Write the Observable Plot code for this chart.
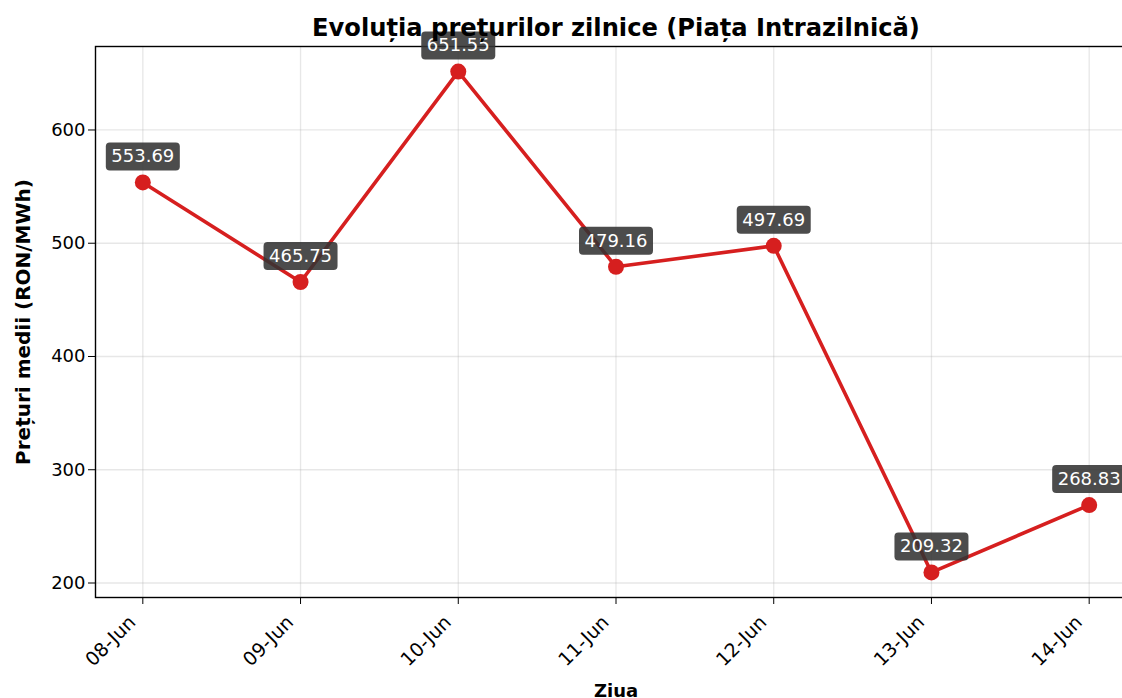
<!DOCTYPE html>
<html>
<head>
<meta charset="utf-8">
<script src="https://cdn.jsdelivr.net/npm/d3@7"></script>
<script src="https://cdn.jsdelivr.net/npm/@observablehq/plot@0.6"></script>
<style>
  html, body { margin: 0; padding: 0; background: #fff; }
  #chart svg { display: block; }
</style>
</head>
<body>
<div id="chart"></div>
<script>
const days = ["08-Jun", "09-Jun", "10-Jun", "11-Jun", "12-Jun", "13-Jun", "14-Jun"];
const prices = [553.69, 465.75, 651.55, 479.16, 497.69, 209.32, 268.83];
const yTicks = [200, 300, 400, 500, 600];
const title = "Evoluția prețurilor zilnice (Piața Intrazilnică)";
const xLabel = "Ziua";
const yLabel = "Prețuri medii (RON/MWh)";

const data = days.map((d, i) => ({day: d, price: prices[i]}));
const lineColor = "#d61f1f";

const boxSymbol = {
  draw(ctx) {
    const w = 37, h = 14, r = 4;
    ctx.moveTo(-w + r, -h);
    ctx.lineTo(w - r, -h);
    ctx.arcTo(w, -h, w, -h + r, r);
    ctx.lineTo(w, h - r);
    ctx.arcTo(w, h, w - r, h, r);
    ctx.lineTo(-w + r, h);
    ctx.arcTo(-w, h, -w, h - r, r);
    ctx.lineTo(-w, -h + r);
    ctx.arcTo(-w, -h, -w + r, -h, r);
    ctx.closePath();
  }
};

const chart = Plot.plot({
  width: 1122,
  height: 698,
  marginLeft: 95,
  marginRight: -14,
  marginTop: 46,
  marginBottom: 101,
  style: {fontFamily: "DejaVu Sans", fontSize: "19px", color: "#000", background: "#fff"},
  x: {type: "point", domain: days, padding: 0.3, round: false, label: null},
  y: {domain: [187.2, 673.7], label: null},
  marks: [
    Plot.gridY(yTicks, {stroke: "#b0b0b0", strokeOpacity: 0.3, strokeWidth: 1.3}),
    Plot.gridX(days, {stroke: "#b0b0b0", strokeOpacity: 0.3, strokeWidth: 1.3}),
    Plot.axisY({ticks: yTicks, tickSize: 7, tickPadding: 3, fontSize: 18, label: null}),
    Plot.axisX({tickSize: 7, tickFormat: () => "", label: null}),
    Plot.text(days, {x: d => d, frameAnchor: "bottom", text: d => d, textAnchor: "end", lineAnchor: "bottom", rotate: -45, dx: -6, dy: 26, fontSize: 19, fill: "#000"}),
    Plot.line(data, {x: "day", y: "price", stroke: lineColor, strokeWidth: 3.6}),
    Plot.dot(data, {x: "day", y: "price", r: 8, fill: lineColor, stroke: "none"}),
    Plot.frame({stroke: "#000", strokeWidth: 1.4}),
    Plot.dot(data, {x: "day", y: "price", dy: -26, r: 10, symbol: boxSymbol, fill: "#333", fillOpacity: 0.88, stroke: "none"}),
    Plot.text(data, {x: "day", y: "price", dy: -26, text: d => d.price.toFixed(2), fill: "#fff", fontSize: 18, lineAnchor: "middle", textAnchor: "middle"}),
    Plot.text([title], {frameAnchor: "top", dy: -11, lineAnchor: "bottom", fontSize: 24.2, fontWeight: "bold", fill: "#000"}),
    Plot.text([xLabel], {frameAnchor: "bottom", dy: 99, lineAnchor: "bottom", fontSize: 18, fontWeight: "bold", fill: "#000"}),
    Plot.text([yLabel], {frameAnchor: "left", dx: -72, rotate: -90, textAnchor: "middle", lineAnchor: "middle", fontSize: 20, fontWeight: "bold", fill: "#000"})
  ]
});
document.getElementById("chart").appendChild(chart);
</script>
</body>
</html>
